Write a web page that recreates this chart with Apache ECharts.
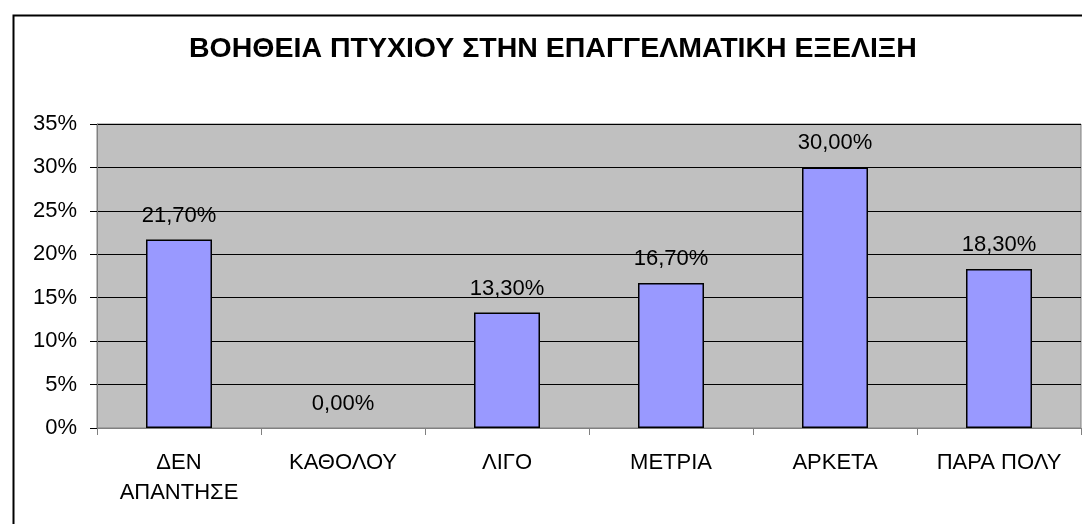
<!DOCTYPE html>
<html>
<head>
<meta charset="utf-8">
<script src="https://cdn.jsdelivr.net/npm/echarts@6/dist/echarts.min.js"></script>
<style>
  html, body { margin: 0; padding: 0; background: #fff; }
  #chart { width: 1082px; height: 524px; }
</style>
</head>
<body>
<div id="chart"></div>
<script>
const titleText = 'ΒΟΗΘΕΙΑ ΠΤΥΧΙΟΥ ΣΤΗΝ ΕΠΑΓΓΕΛΜΑΤΙΚΗ ΕΞΕΛΙΞΗ'
const categories = ['ΔΕΝ\nΑΠΑΝΤΗΣΕ', 'ΚΑΘΟΛΟΥ', 'ΛΙΓΟ', 'ΜΕΤΡΙΑ', 'ΑΡΚΕΤΑ', 'ΠΑΡΑ ΠΟΛΥ']
const values = [21.7, 0, 13.3, 16.7, 30.0, 18.3]
const yMax = 35
const yStep = 5

const font = 'Liberation Sans, Arial, sans-serif'

const myChart = echarts.init(document.getElementById('chart'))

// zero bars have no visible outline in the original
const barData = values.map(v => v === 0 ? { value: v, itemStyle: { borderWidth: 0 } } : v)

myChart.setOption({
  animation: false,
  backgroundColor: '#fff',
  title: {
    text: titleText,
    left: 189,
    top: 35,
    padding: 0,
    textStyle: { fontFamily: font, fontSize: 28.5, fontWeight: 'bold', color: '#000' }
  },
  graphic: [{
    type: 'rect',
    left: 11,
    top: 13,
    shape: { width: 1200, height: 700 },
    style: { fill: 'none', stroke: '#000', lineWidth: 2 },
    silent: true,
    z: 100
  }],
  grid: {
    left: 97, right: 1, top: 124, bottom: 96,
    show: true,
    backgroundColor: '#C0C0C0',
    borderColor: '#808080',
    borderWidth: 1
  },
  xAxis: {
    type: 'category',
    data: categories,
    axisLine: { lineStyle: { color: '#808080', width: 1 } },
    axisTick: { show: true, length: 7, alignWithLabel: false, lineStyle: { color: '#808080' } },
    axisLabel: {
      interval: 0,
      margin: 20,
      fontFamily: font,
      fontSize: 22,
      lineHeight: 30,
      color: '#000'
    }
  },
  yAxis: {
    type: 'value',
    min: 0,
    max: yMax,
    interval: yStep,
    axisLine: { show: true, lineStyle: { color: '#808080' } },
    axisTick: { show: true, length: 7, lineStyle: { color: '#000' } },
    splitLine: { lineStyle: { color: '#000', width: 1 } },
    axisLabel: {
      margin: 20,
      fontFamily: font,
      fontSize: 22,
      color: '#000',
      formatter: v => v + '%'
    }
  },
  series: [{
    type: 'bar',
    data: barData,
    barWidth: 66,
    itemStyle: { color: '#9999FF', borderColor: '#000', borderWidth: 1.5 },
    label: {
      show: true,
      position: 'top',
      distance: 13,
      fontFamily: font,
      fontSize: 22,
      color: '#000',
      formatter: p => p.value.toFixed(2).replace('.', ',') + '%'
    }
  }]
})
</script>
</body>
</html>
